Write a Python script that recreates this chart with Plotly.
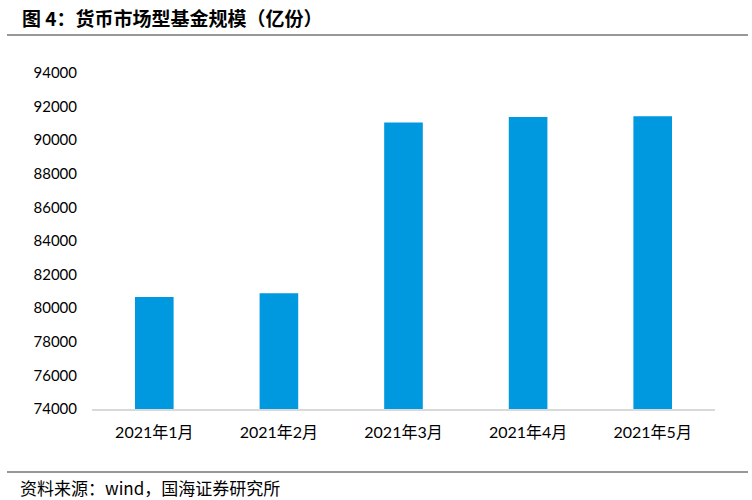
import plotly.graph_objects as go

# 货币市场型基金规模（亿份）
months = ["2021年1月", "2021年2月", "2021年3月", "2021年4月", "2021年5月"]
scale = [80670, 80890, 91060, 91380, 91420]
y_ticks = list(range(74000, 94001, 2000))

BLUE = "#0098DE"
CJK = "Noto Sans CJK SC"
NUM = "Lato, Noto Sans CJK SC"


def px_x(p):
    # pixel -> paper x (plot spans 92..715)
    return (p - 92) / 623


def px_y(p):
    # pixel -> paper y (plot spans 73..409)
    return (409 - p) / 336


fig = go.Figure()
fig.add_trace(go.Bar(x=months, y=scale, marker=dict(color=BLUE, line=dict(width=0))))

fig.update_layout(
    width=752, height=500,
    margin=dict(l=92, r=37, t=73, b=91),
    plot_bgcolor="white", paper_bgcolor="white",
    bargap=0.69,
    showlegend=False,
)
fig.update_yaxes(
    range=[74000, 94000], tickvals=y_ticks, tickformat="d", showgrid=False, zeroline=False,
    showline=False, tickfont=dict(family=NUM, size=15, color="#000000"),
    ticklabelstandoff=14,
)
fig.update_xaxes(
    showline=True, linecolor="#D9D9D9", linewidth=1.5, showgrid=False,
    tickfont=dict(family=NUM, size=16, color="#000000"),
    ticklabelstandoff=8,
)

# title, separators and source note
fig.add_annotation(text="<b>图 4：货币市场型基金规模（亿份）</b>", xref="paper", yref="paper",
                   x=px_x(20), y=px_y(18), xanchor="left", yanchor="middle", showarrow=False,
                   font=dict(family=CJK, size=19, color="#000000"))
fig.add_annotation(text="资料来源：wind，国海证券研究所", xref="paper", yref="paper",
                   x=px_x(18), y=px_y(487), xanchor="left", yanchor="middle", showarrow=False,
                   font=dict(family=CJK, size=17, color="#000000"))
for py in (35, 472):
    fig.add_shape(type="line", xref="paper", yref="paper",
                  x0=px_x(7), x1=px_x(748), y0=px_y(py), y1=px_y(py),
                  line=dict(color="#333333", width=1.2))

fig.write_html("out.html", config={"displayModeBar": False},
               post_script="document.body.style.margin='0';")
